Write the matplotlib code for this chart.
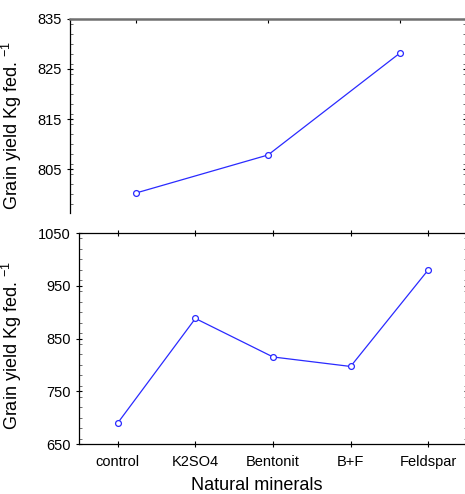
import matplotlib
matplotlib.use("Agg")
import matplotlib.pyplot as plt
from matplotlib.ticker import MultipleLocator

plt.rcParams['font.family'] = ['Liberation Sans', 'DejaVu Sans']
plt.rcParams['mathtext.fontset'] = 'custom'
plt.rcParams['mathtext.rm'] = 'Liberation Sans'
plt.rcParams['mathtext.it'] = 'Liberation Sans'

# Top panel data
top_categories = ['control', 'Bentonit', 'Feldspar']
top_values = [800.2, 807.8, 828.2]
top_yticks = [805, 815, 825, 835]

# Bottom panel data
categories = ['control', 'K2SO4', 'Bentonit', 'B+F', 'Feldspar']
values = [690, 888, 815, 797, 980]
bottom_yticks = [650, 750, 850, 950, 1050]

ylabel = 'Grain yield Kg fed. $^{-1}$'
xlabel = 'Natural minerals'
line_color = '#2a2aff'

W, H = 465, 494
fig = plt.figure(figsize=(W / 100, H / 100), dpi=100)

# ---- top panel ----
ax1 = fig.add_axes([70 / W, 1 - 213 / H, 396 / W, 194 / H])
x1 = list(range(len(top_categories)))
ax1.plot(x1, top_values, color=line_color, lw=0.9, marker='o', ms=4.2,
         mfc='white', mec=line_color, mew=0.9)
ax1.set_xlim(-0.5, len(top_categories) - 0.5)
ax1.set_ylim(796.2, 835)
ax1.set_yticks(top_yticks)
ax1.yaxis.set_minor_locator(MultipleLocator(2))
ax1.set_xticks(x1)
ax1.set_xticklabels([])
ax1.spines['bottom'].set_visible(False)
ax1.spines['right'].set_visible(False)
ax1.spines['top'].set_color('#707070')
ax1.spines['top'].set_linewidth(1.8)
ax1.spines['left'].set_linewidth(0.9)
ax1.tick_params(axis='x', which='both', bottom=False, top=True, labelbottom=False,
                direction='in', length=3, width=0.8)
ax1.tick_params(axis='y', which='major', direction='inout', length=5, width=0.8,
                labelsize=10.5, right=True)
ax1.tick_params(axis='y', which='minor', direction='in', length=2.5, width=0.6,
                right=True, color='#555555')
ax1.set_ylabel(ylabel, fontsize=13)
ax1.yaxis.set_label_coords(-0.116, 0.45)

# ---- bottom panel ----
ax2 = fig.add_axes([79 / W, 1 - 444 / H, 388 / W, 211 / H])
x2 = list(range(len(categories)))
ax2.plot(x2, values, color=line_color, lw=0.9, marker='o', ms=4.2,
         mfc='white', mec=line_color, mew=0.9)
ax2.set_xlim(-0.5, len(categories) - 0.5)
ax2.set_ylim(650, 1050)
ax2.set_yticks(bottom_yticks)
ax2.yaxis.set_minor_locator(MultipleLocator(20))
ax2.set_xticks(x2)
ax2.set_xticklabels(categories, fontsize=10.5)
for s in ax2.spines.values():
    s.set_linewidth(0.9)
ax2.tick_params(axis='x', which='both', top=True, direction='inout', length=4,
                width=0.8, pad=6)
ax2.tick_params(axis='y', which='major', direction='inout', length=5, width=0.8,
                labelsize=10.5, right=True)
ax2.tick_params(axis='y', which='minor', direction='in', length=2.5, width=0.6,
                right=True, color='#555555')
ax2.set_ylabel(ylabel, fontsize=13)
ax2.yaxis.set_label_coords(-0.142, 0.465)
ax2.set_xlabel(xlabel, fontsize=13, va='bottom')
ax2.xaxis.set_label_coords(0.459, -0.235)

fig.savefig('out.png', dpi=100)
